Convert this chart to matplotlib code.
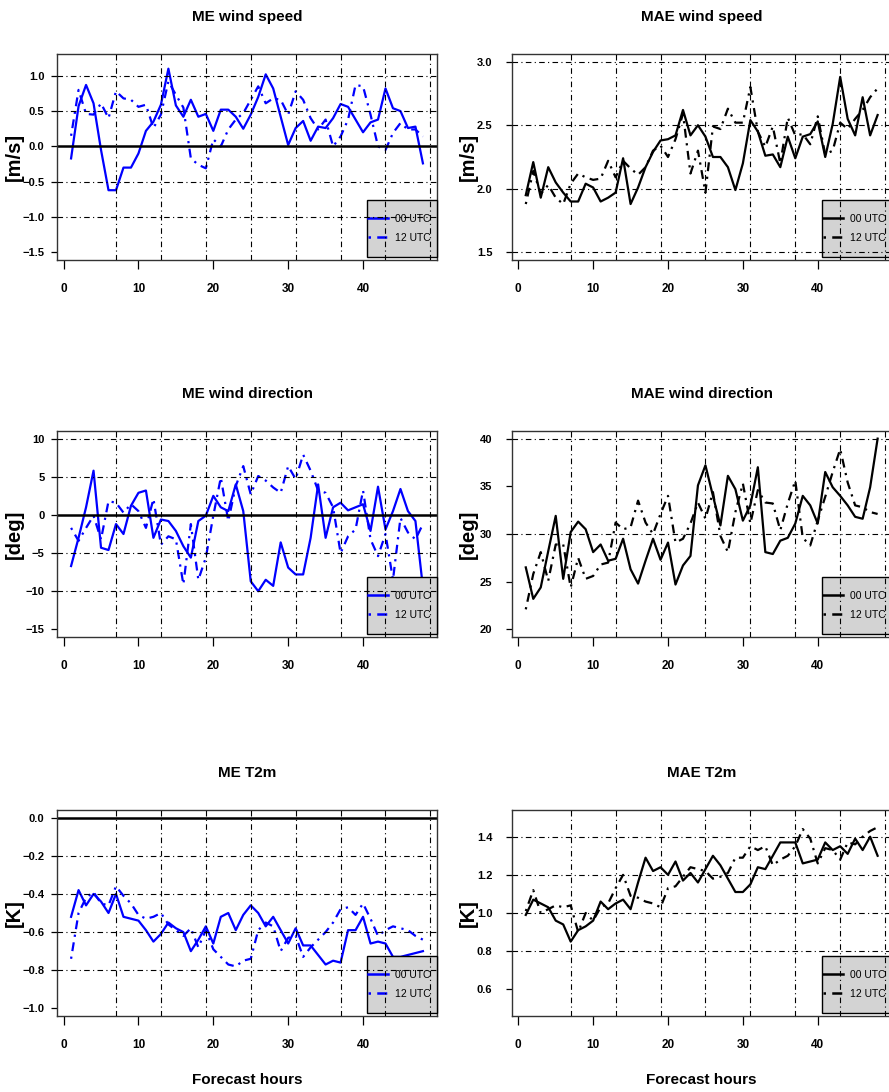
#!/usr/bin/env python
# verification scores (ME / MAE) for wind speed, wind direction and T2m, 00 and 12 UTC runs

import matplotlib
matplotlib.use('Agg')
import matplotlib.pyplot as plt
import matplotlib.patches as mpatches

plt.rcParams['font.family'] = ['Liberation Sans', 'DejaVu Sans']

# data
hours = list(range(1, 49))

me_ws_00 = [-0.17, 0.57, 0.87, 0.61, -0.05, -0.62, -0.62, -0.30, -0.30, -0.10,
            0.22, 0.35, 0.59, 1.10, 0.58, 0.42, 0.66, 0.42, 0.46, 0.22,
            0.52, 0.52, 0.42, 0.25, 0.45, 0.70, 1.02, 0.82, 0.42, 0.02,
            0.26, 0.36, 0.08, 0.28, 0.26, 0.40, 0.60, 0.56, 0.38, 0.20,
            0.34, 0.38, 0.82, 0.54, 0.50, 0.26, 0.28, -0.24]
me_ws_12 = [0.15, 0.80, 0.46, 0.45, 0.61, 0.40, 0.78, 0.68, 0.66, 0.56,
            0.59, 0.26, 0.45, 0.92, 0.73, 0.55, -0.17, -0.26, -0.31, 0.10,
            0.00, 0.24, 0.38, 0.47, 0.66, 0.85, 0.61, 0.68, 0.66, 0.45,
            0.78, 0.66, 0.40, 0.24, 0.38, 0.00, 0.14, 0.38, 0.87, 0.85,
            0.45, 0.00, -0.05, 0.19, 0.33, 0.24, 0.24, 0.14]

mae_ws_00 = [1.95, 2.21, 1.93, 2.17, 2.05, 1.97, 1.90, 1.90, 2.04, 2.01,
             1.90, 1.93, 1.97, 2.24, 1.88, 2.01, 2.17, 2.29, 2.38, 2.39,
             2.42, 2.62, 2.42, 2.50, 2.41, 2.25, 2.25, 2.17, 1.99, 2.20,
             2.54, 2.45, 2.26, 2.27, 2.17, 2.41, 2.24, 2.41, 2.43, 2.53,
             2.25, 2.51, 2.88, 2.55, 2.42, 2.72, 2.42, 2.58]
mae_ws_12 = [1.88, 2.14, 1.96, 2.03, 1.93, 1.88, 2.04, 2.12, 2.09, 2.07,
             2.08, 2.22, 2.09, 2.22, 2.16, 2.11, 2.17, 2.30, 2.34, 2.25,
             2.39, 2.59, 2.12, 2.30, 1.97, 2.49, 2.47, 2.63, 2.52, 2.52,
             2.80, 2.45, 2.33, 2.49, 2.20, 2.56, 2.42, 2.43, 2.35, 2.57,
             2.27, 2.30, 2.52, 2.47, 2.55, 2.62, 2.72, 2.79]

me_wd_00 = [-6.7, -3.0, 1.0, 5.8, -4.3, -4.6, -1.2, -2.5, 1.2, 2.9,
            3.2, -3.0, -0.6, -0.8, -2.1, -4.1, -5.6, -0.8, -0.1, 2.5,
            1.0, 0.5, 4.0, 0.5, -8.7, -10.0, -8.5, -9.3, -3.6, -6.9,
            -7.8, -7.8, -3.0, 4.0, -3.0, 1.0, 1.6, 0.6, 1.0, 1.4,
            -2.1, 3.7, -1.9, 0.5, 3.4, 0.5, -0.8, -9.5]
me_wd_12 = [-1.7, -3.4, -1.7, -0.1, -3.2, 1.8, 1.6, 0.3, 1.4, 0.5,
            -1.7, 2.1, -3.9, -2.8, -3.2, -9.1, -1.2, -8.5, -5.6, -0.1,
            4.9, -0.8, 3.8, 6.4, 2.7, 5.1, 4.5, 3.6, 2.9, 6.4,
            4.7, 7.9, 5.8, 3.2, 2.9, 1.0, -5.0, -2.8, -1.9, 3.2,
            -3.2, -5.4, -2.5, -8.5, -0.4, -2.3, -3.2, -1.2]

mae_wd_00 = [26.5, 23.2, 24.4, 28.2, 31.9, 25.3, 30.2, 31.3, 30.5, 28.1,
             28.9, 27.2, 27.4, 29.5, 26.3, 24.8, 27.2, 29.5, 27.3, 29.1,
             24.7, 26.7, 27.7, 35.1, 37.2, 34.0, 30.9, 36.1, 34.7, 31.4,
             33.0, 37.0, 28.1, 27.9, 29.3, 29.6, 31.1, 34.0, 33.0, 31.1,
             36.5, 34.9, 34.0, 33.0, 31.8, 31.6, 34.9, 40.0]
mae_wd_12 = [22.1, 25.8, 28.1, 25.1, 28.9, 28.9, 24.4, 27.5, 25.3, 25.6,
             26.8, 27.0, 31.2, 30.5, 30.7, 33.5, 31.2, 30.0, 32.1, 34.0,
             29.1, 29.5, 31.1, 33.3, 31.6, 34.4, 29.8, 28.1, 32.3, 35.3,
             31.1, 34.6, 33.3, 33.2, 30.4, 33.2, 35.6, 29.6, 28.8, 31.4,
             33.9, 36.5, 38.9, 35.4, 33.0, 32.8, 32.3, 32.1]

me_t2_00 = [-0.52, -0.38, -0.46, -0.40, -0.44, -0.50, -0.40, -0.52, -0.53, -0.54,
            -0.59, -0.65, -0.61, -0.55, -0.58, -0.60, -0.70, -0.64, -0.57, -0.66,
            -0.52, -0.50, -0.59, -0.51, -0.46, -0.50, -0.57, -0.52, -0.59, -0.66,
            -0.58, -0.67, -0.67, -0.72, -0.77, -0.75, -0.76, -0.59, -0.59, -0.52,
            -0.66, -0.65, -0.66, -0.73, -0.73, -0.72, -0.71, -0.70]
me_t2_12 = [-0.74, -0.50, -0.42, -0.39, -0.45, -0.46, -0.36, -0.41, -0.45, -0.51,
            -0.53, -0.52, -0.50, -0.56, -0.59, -0.62, -0.58, -0.68, -0.59, -0.69,
            -0.73, -0.77, -0.78, -0.75, -0.74, -0.59, -0.55, -0.57, -0.70, -0.63,
            -0.62, -0.73, -0.68, -0.64, -0.60, -0.55, -0.48, -0.47, -0.51, -0.45,
            -0.53, -0.62, -0.59, -0.57, -0.58, -0.59, -0.62, -0.64]

mae_t2_00 = [0.99, 1.07, 1.05, 1.03, 0.96, 0.94, 0.85, 0.91, 0.93, 0.96,
             1.06, 1.02, 1.05, 1.07, 1.02, 1.16, 1.29, 1.22, 1.24, 1.20,
             1.27, 1.17, 1.21, 1.16, 1.23, 1.30, 1.25, 1.18, 1.11, 1.11,
             1.15, 1.24, 1.23, 1.30, 1.37, 1.37, 1.37, 1.26, 1.27, 1.28,
             1.37, 1.33, 1.35, 1.31, 1.39, 1.33, 1.40, 1.30]
mae_t2_12 = [1.01, 1.12, 1.00, 1.02, 1.04, 1.03, 1.04, 0.90, 1.00, 0.96,
             1.03, 1.05, 1.13, 1.20, 1.09, 1.08, 1.06, 1.05, 1.03, 1.13,
             1.14, 1.19, 1.24, 1.23, 1.22, 1.18, 1.19, 1.21, 1.29, 1.29,
             1.35, 1.33, 1.35, 1.25, 1.28, 1.30, 1.35, 1.44, 1.39, 1.26,
             1.34, 1.33, 1.28, 1.37, 1.36, 1.40, 1.43, 1.45]

# axis ticks and grid levels
xticks = [0, 10, 20, 30, 40]
vgrid = [7, 13, 19, 25, 31, 37, 43, 49]
legend_labels = ['00 UTC', '12 UTC']

W, H = 889, 1092
fig = plt.figure(figsize=(W / 100, H / 100), dpi=100)

# panel boxes in pixels (left, top) ; all boxes are 380 x 206 px
pw, ph = 380, 206
lefts = [57, 511.7]
tops = [54, 431, 810]

grid_dash = (0, (5, 3, 1, 3))
dotdash = (0, (1, 2.5, 4, 2.5))


def rlim(lo, hi):
    # R style 4% extension of the range
    r = hi - lo
    return lo - 0.04 * r, hi + 0.04 * r


def panel(row, col, title, ylab, v00, v12, color, ylim, yticks, fmt, hgrid, zero=False, xlab=False):
    x0 = lefts[col]
    y0 = tops[row]
    ax = fig.add_axes([x0 / W, 1 - (y0 + ph) / H, pw / W, ph / H])

    ax.plot(hours, v00, color=color, lw=1.6, zorder=2)
    ax.plot(hours, v12, color=color, lw=1.6, linestyle=dotdash, zorder=2)
    if zero:
        ax.axhline(0, color='black', lw=1.8, zorder=2.5)

    ax.set_xlim(rlim(1, 48))
    ax.set_ylim(rlim(*ylim))
    ax.set_xticks(xticks)
    ax.set_yticks(yticks)
    ax.set_yticklabels([(fmt % t).replace('-', '\u2212') for t in yticks])

    ax.tick_params(axis='x', direction='out', length=6.5, width=0.9, pad=10,
                   labelsize=8.5)
    ax.tick_params(axis='y', direction='out', length=4, width=0.9,
                   pad=5 if col == 0 else 10, labelsize=8)
    for lab in ax.get_xticklabels() + ax.get_yticklabels():
        lab.set_fontweight('bold')
    for sp in ax.spines.values():
        sp.set_linewidth(1.0)
        sp.set_color('#333333')

    # grey legend box, drawn under the grid lines
    bx, bw = (pw - 70) / pw, 70 / pw
    by, bh = 3 / ph, 57 / ph
    rect = mpatches.Rectangle((bx, by), bw, bh, transform=ax.transAxes,
                              facecolor='#d3d3d3', edgecolor='black', lw=1.0,
                              zorder=3, clip_on=False)
    ax.add_patch(rect)
    h1, = ax.plot([], [], color=color, lw=1.8)
    h2, = ax.plot([], [], color=color, lw=1.8, linestyle=dotdash)
    leg = ax.legend([h1, h2], legend_labels, loc='center left',
                    bbox_to_anchor=(bx, by, bw, bh), bbox_transform=ax.transAxes,
                    frameon=False, borderaxespad=0, borderpad=0.1,
                    handlelength=1.9, handletextpad=0.7, labelspacing=0.85,
                    fontsize=7.5)
    leg.set_zorder(3.5)

    for g in vgrid:
        ax.axvline(g, color='black', lw=0.8, linestyle=grid_dash, zorder=4)
    for g in hgrid:
        ax.axhline(g, color='black', lw=0.8, linestyle=grid_dash, zorder=4)

    ax.text(0.5, 1 + 33 / ph, title, transform=ax.transAxes, ha='center',
            va='baseline', fontsize=11, fontweight='bold')
    ax.text(-43 / pw, 0.5, ylab, transform=ax.transAxes, rotation=90,
            ha='center', va='center', fontsize=14.5, fontweight='bold')
    if xlab:
        ax.text(0.5, -68 / ph, 'Forecast hours', transform=ax.transAxes,
                ha='center', va='baseline', fontsize=11, fontweight='bold')
    return ax


panel(0, 0, 'ME wind speed', '[m/s]', me_ws_00, me_ws_12, 'blue', (-1.5, 1.2),
      [-1.5, -1.0, -0.5, 0.0, 0.5, 1.0], '%.1f', [-1.0, -0.5, 0.5, 1.0], zero=True)
panel(0, 1, 'MAE wind speed', '[m/s]', mae_ws_00, mae_ws_12, 'black', (1.5, 3.0),
      [1.5, 2.0, 2.5, 3.0], '%.1f', [1.5, 2.0, 2.5, 3.0])
panel(1, 0, 'ME wind direction', '[deg]', me_wd_00, me_wd_12, 'blue', (-15, 10),
      [-15, -10, -5, 0, 5, 10], '%d', [-10, -5, 5, 10], zero=True)
panel(1, 1, 'MAE wind direction', '[deg]', mae_wd_00, mae_wd_12, 'black', (20, 40),
      [20, 25, 30, 35, 40], '%d', [30, 40])
panel(2, 0, 'ME T2m', '[K]', me_t2_00, me_t2_12, 'blue', (-1.0, 0.0),
      [-1.0, -0.8, -0.6, -0.4, -0.2, 0.0], '%.1f', [-0.8, -0.6, -0.4, -0.2], zero=True, xlab=True)
panel(2, 1, 'MAE T2m', '[K]', mae_t2_00, mae_t2_12, 'black', (0.5, 1.5),
      [0.6, 0.8, 1.0, 1.2, 1.4], '%.1f', [0.8, 1.0, 1.2, 1.4], xlab=True)

plt.savefig('out.png', dpi=100)
